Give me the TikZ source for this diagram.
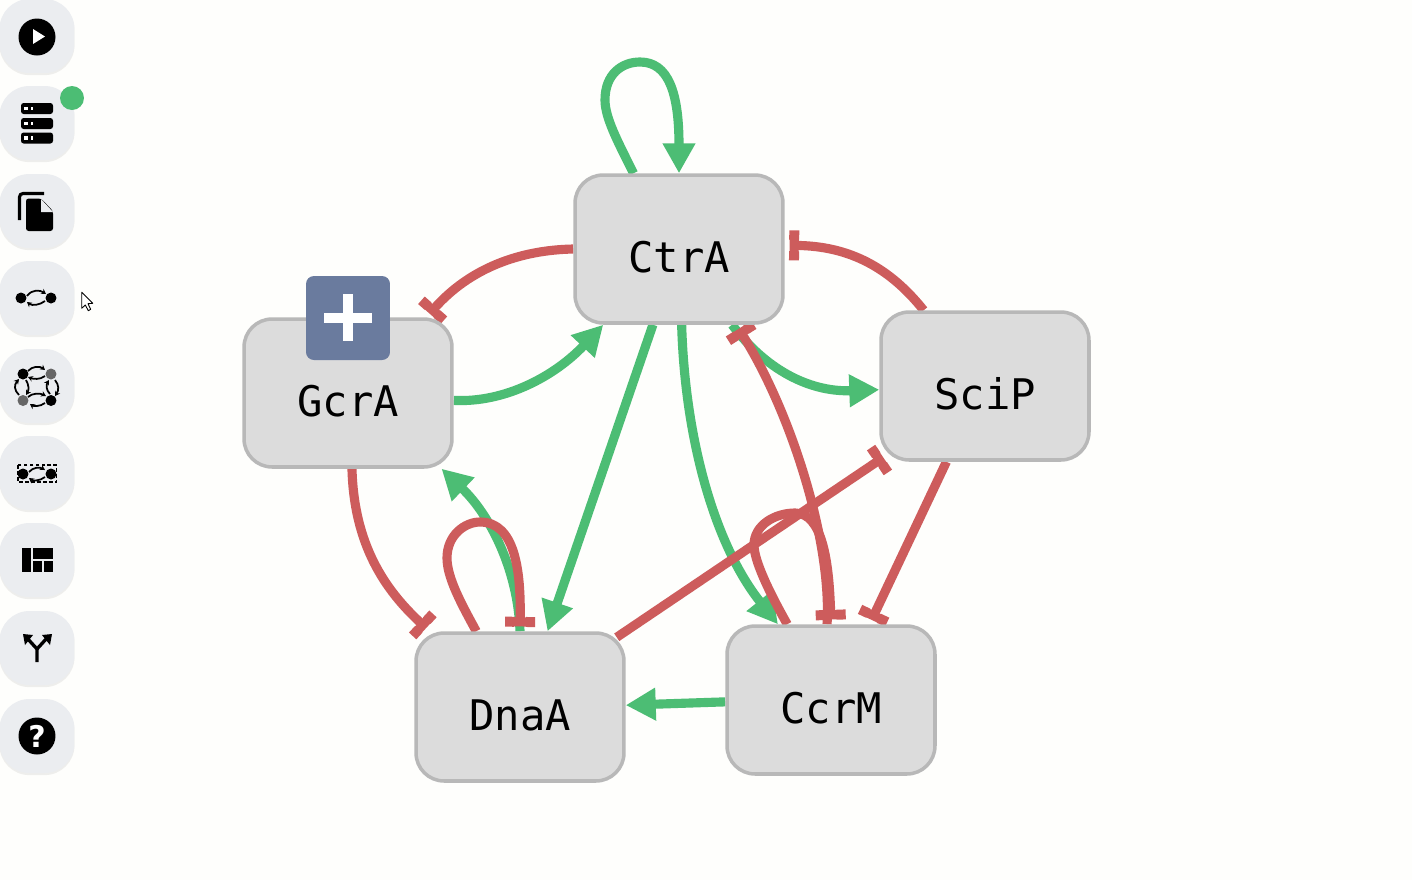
\documentclass[tikz,border=0pt]{standalone}
\usepackage{fontspec}
\setmonofont{DejaVu Sans Mono}
\setsansfont{DejaVu Sans}
\usetikzlibrary{arrows.meta,backgrounds,shadows}
\definecolor{pagecol}{HTML}{FEFEFC}
\definecolor{genecol}{HTML}{DCDCDC}
\definecolor{genelinecol}{HTML}{B8B8B8}
\definecolor{activcol}{HTML}{4CBD74}
\definecolor{inhibcol}{HTML}{CD5C5C}
\definecolor{badgecol}{HTML}{6A7B9E}
\definecolor{toolcol}{HTML}{EBEDF0}
\definecolor{dotgray}{HTML}{666666}
\tikzset{
  gene/.style={draw=genelinecol,fill=genecol,line width=2pt,rounded corners=16pt,
    minimum width=4.16cm,minimum height=2.96cm,font=\ttfamily\fontsize{24}{24}\selectfont,
    text height=27.2pt,text depth=0pt},
  activ/.style={draw=activcol,line width=5.2pt,-{Triangle[length=0.6cm,width=0.62cm]}},
  inhib/.style={draw=inhibcol,line width=5.2pt,-{Bar[width=0.6cm,length=0.2cm]},shorten >=2.5pt},
  toolbtn/.style={fill=toolcol,rounded corners=17pt,minimum width=1.5cm,minimum height=1.48cm,
    drop shadow={shadow xshift=0pt,shadow yshift=-1.2pt,opacity=0.12}},
  iconarrow/.style={line width=1pt,-{Stealth[length=2.8pt,width=3.2pt]}},
  icondot/.style={circle,fill=black,inner sep=0pt,minimum size=0.22cm},
}
\begin{document}
\begin{tikzpicture}[x=0.02cm,y=-0.02cm]
   \useasboundingbox (0,0) rectangle (1412,880);
   \begin{scope}[on background layer]
   \fill[pagecol] (0,0) rectangle (1412,880);
   \end{scope}
   % genes
   \node[gene] (CtrA) at (679,249) {CtrA};
   \node[gene] (GcrA) at (348,393) {GcrA};
   \node[gene] (SciP) at (985,386) {SciP};
   \node[gene] (DnaA) at (520,707) {DnaA};
   \node[gene] (CcrM) at (831,700) {CcrM};
   \begin{scope}[on background layer]
   % activation
   \draw[activ] (CtrA.121) .. controls (618,142) and (605,118) .. (605,100)
      .. controls (605,74) and (622,62) .. (640,62)
      .. controls (668,62) and (679,92) .. (CtrA.90);
   \draw[activ] (GcrA.356) .. controls (505,403) and (555,376) .. (CtrA.225);
   \draw[activ] (CtrA.251) -- (DnaA.70);
   \draw[activ] (CtrA.272) .. controls (685,440) and (715,545) .. (CcrM.125.6);
   \draw[activ] (CtrA.305) .. controls (770,375) and (815,392) .. (SciP.182.75);
   \draw[activ] (CcrM.181.65) -- (DnaA.1.65);
   \draw[activ] (DnaA.north) .. controls (518,570) and (490,515) .. (GcrA.321);
   % inhibition
   \draw[inhib] (CtrA.west) .. controls (520,250) and (470,268) .. (GcrA.44);
   \draw[inhib] (SciP.129) .. controls (890,268) and (850,246) .. (CtrA.2);
   \draw[inhib] (CcrM.93) .. controls (832,540) and (790,410) .. (CtrA.307);
   \draw[inhib] (CcrM.120.7) .. controls (768,590) and (754,560) .. (754,545)
      .. controls (754,525) and (775,513) .. (795,513)
      .. controls (822,513) and (829,560) .. (CcrM.north);
   \draw[inhib] ([shift={(-9,6)}]DnaA.north east) -- ([shift={(8,-7)}]SciP.south west);
   \draw[inhib] (SciP.243.4) -- (CcrM.63.4);
   \draw[inhib] (GcrA.273) .. controls (354,545) and (385,590) .. (DnaA.140.6);
   \draw[inhib] (DnaA.120.7) .. controls (462,605) and (447,578) .. (447,558)
      .. controls (447,535) and (465,522) .. (480,522)
      .. controls (515,522) and (521,570) .. (DnaA.north);
   \end{scope}
   % plus badge
   \node[fill=badgecol,rounded corners=4.5pt,minimum width=1.68cm,minimum height=1.68cm] (badge) at (348,318) {};
   \fill[white] (324,313) rectangle (372,323);
   \fill[white] (343,294) rectangle (353,341);
   % toolbar
   \foreach \y/\btn in {36/play,123/server,211/files,298/pair,386/ring,473/group,560/layout,648/split,736/help}
      \node[toolbtn] (\btn) at (37,\y) {};
   \fill (37,37) circle(18.5);
   \fill[white] (33,29) -- (45,36.5) -- (33,44) -- cycle;
   \node[circle,fill=activcol,inner sep=0pt,minimum size=0.48cm] (badgedot) at (72,98) {};
   \foreach \y in {103,118,132.5} {
      \fill[rounded corners=1.5pt] (21,\y) rectangle (53,\y+11);
      \fill[white] (24,\y+3.5) rectangle (28,\y+7);
      \fill[white] (31,\y+3.5) rectangle (33,\y+7);
   }
   \draw[line width=1.8pt,rounded corners=2pt] (19.5,220) -- (19.5,193.5) -- (44,193.5);
   \fill[rounded corners=1.5pt] (26,198.5) -- (41,198.5) -- (53,211) -- (53,231) -- (26,231) -- cycle;
   \fill[toolcol] (41,199) -- (53,212) -- (41,212) -- cycle;
   % small graph icons
   \node[icondot] (pairl) at (21,298) {};
   \node[icondot] (pairr) at (51,298) {};
   \draw[iconarrow] (27,296) .. controls (32,289) and (40,290) .. (46,294);
   \draw[iconarrow] (45,301) .. controls (40,305) and (32,306) .. (27,302);
   \node[icondot] (ringa) at (23,374) {};
   \node[icondot,fill=dotgray] (ringb) at (51,374) {};
   \node[icondot,fill=dotgray] (ringc) at (23,400.5) {};
   \node[icondot] (ringd) at (51,400.5) {};
   \draw[iconarrow] (28,371) .. controls (32,366) and (40,366) .. (45,370);
   \draw[iconarrow] (45,376) .. controls (40,380) and (33,379) .. (28,377);
   \draw[iconarrow] (28,397) .. controls (32,393) and (40,393) .. (46,396);
   \draw[iconarrow] (45,403) .. controls (40,407) and (33,406) .. (30,404);
   \draw[iconarrow] (19,395) .. controls (14,390) and (14,385) .. (19,379);
   \draw[iconarrow] (26,380) .. controls (29,385) and (29,390) .. (26,395);
   \draw[iconarrow] (50,394) .. controls (46,390) and (46,385) .. (49,380);
   \draw[iconarrow] (55,380) .. controls (59,385) and (59,390) .. (55,396);
   \node[icondot] (groupl) at (23,474) {};
   \node[icondot] (groupr) at (51,474) {};
   \draw[iconarrow] (29,472) .. controls (33,467) and (40,467) .. (45,470);
   \draw[iconarrow] (45,477) .. controls (40,481) and (33,481) .. (29,478);
   \draw[line width=1pt,dash pattern=on 2.2pt off 1.2pt] (18,465) rectangle (56.5,482);
   % layout icon
   \fill (22,548) rectangle (31,572);
   \fill (33,548) rectangle (53,559);
   \fill (33,561) rectangle (42,572);
   \fill (44,561) rectangle (53,572);
   % split icon
   \draw[line width=1.9pt] (37,662) -- (37,649) -- (27,638);
   \draw[line width=1.9pt] (37,649) -- (47,638);
   \fill (23,634) -- (33,635) -- (25,645) -- cycle;
   \fill (52,634) -- (42,635) -- (50,645) -- cycle;
   % help icon
   \node[circle,fill=black,inner sep=0pt,minimum size=0.74cm,text=white,font=\sffamily\bfseries\fontsize{17}{17}\selectfont] (helpmark) at (37,736) {?};
   % cursor
   \draw[fill=white,line width=0.5pt,line join=round] (81.7,292.3) -- (81.7,308.3) -- (85.3,305) -- (88.3,310.7) -- (90.7,309.3) -- (88,303.7) -- (92.7,303.3) -- cycle;
  \end{tikzpicture}
\end{document}
